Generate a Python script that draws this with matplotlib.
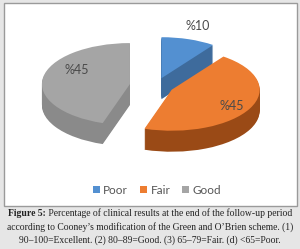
import matplotlib.pyplot as plt
from matplotlib.patches import Rectangle

# data
labels = ['Poor', 'Fair', 'Good']
values = [10, 45, 45]
value_labels = ['%10', '%45', '%45']
top_colors = ['#5390d1', '#ed7d31', '#a5a5a5']
side_colors = ['#3e6b9c', '#9a4a16', '#8a8a8a']
explode = [0.2, 0.2, 0.3]

caption_bold = "Figure 5:"
caption_lines = [
    " Percentage of clinical results at the end of the follow-up period",
    "according to Cooney\u2019s modification of the Green and O\u2019Brien scheme. (1)",
    "90\u2013100=Excellent. (2) 80\u201389=Good. (3) 65\u201379=Fair. (d) <65=Poor.",
]

W, H = 300, 249
fig = plt.figure(figsize=(W / 100, H / 100), dpi=100)
fig.patch.set_facecolor('#e6e6e6')

# white chart panel
panel = Rectangle((4 / W, 1 - 206 / H), 293 / W, 203 / H,
                  transform=fig.transFigure, facecolor='white',
                  edgecolor='#9a9a9a', linewidth=1.0, zorder=-5)
fig.patches.append(panel)

# pie axes: unit radius = 88 px horizontally, 41 px vertically
cx, cy, rx, ry = 156, 86, 88, 41
depth = 21
ax = fig.add_axes([0, 0, 1, 1], zorder=2)
ax.patch.set_alpha(0)
for k in range(depth, -1, -1):
    cols = top_colors if k == 0 else side_colors
    ax.pie(values, colors=cols, explode=explode, startangle=90,
           counterclock=False, center=(0, -k / ry),
           wedgeprops=dict(linewidth=0))
ax.set_aspect('auto')
ax.set_xlim(-cx / rx, (W - cx) / rx)
ax.set_ylim((cy - H) / ry, cy / ry)
ax.axis('off')

# value labels
label_pos = [(198, 26), (232, 106), (77, 70)]
for (px, py), txt in zip(label_pos, value_labels):
    fig.text(px / W, 1 - py / H, txt, ha='center', va='center',
             fontsize=9, color='#4a4a4a', family='Lato', zorder=3)

# legend
handles = [Rectangle((0, 0), 1, 1, facecolor=c, edgecolor='none') for c in top_colors]
fig.legend(handles, labels, loc='center', bbox_to_anchor=(157 / W, 1 - 190 / H),
           ncol=3, frameon=False, handlelength=0.6, handleheight=0.6,
           handletextpad=0.3, columnspacing=1.0, labelcolor='#555555',
           prop=dict(family='Lato', size=8.5))

# caption
fs = 6.9
r = fig.canvas.get_renderer()
tb = fig.text(0, 0, caption_bold, family='Liberation Serif', fontsize=fs,
              weight='bold', color='#222222', va='center')
tr = fig.text(0, 0, caption_lines[0], family='Liberation Serif', fontsize=fs,
              color='#222222', va='center')
wb = tb.get_window_extent(r).width
wr = tr.get_window_extent(r).width
x0 = 150 - (wb + wr) / 2
y0 = 1 - 213 / H
tb.set_position((x0 / W, y0))
tr.set_position(((x0 + wb) / W, y0))
fig.text(150 / W, 1 - 227 / H, caption_lines[1], ha='center', va='center',
         family='Liberation Serif', fontsize=fs, color='#222222')
fig.text(150 / W, 1 - 240 / H, caption_lines[2], ha='center', va='center',
         family='Liberation Serif', fontsize=fs, color='#222222')

fig.savefig('out.png', dpi=100, facecolor=fig.get_facecolor())
